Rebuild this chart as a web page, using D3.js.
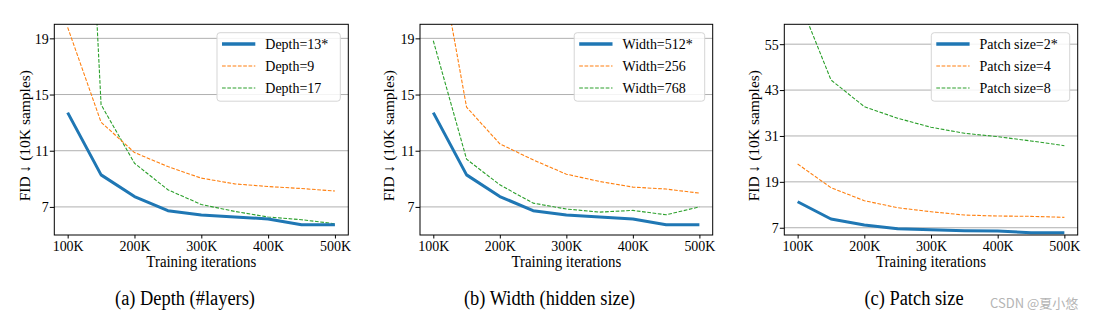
<!DOCTYPE html>
<html><head><meta charset="utf-8">
<script src="https://cdn.jsdelivr.net/npm/d3@7"></script>
<style>body{margin:0;background:#fff} svg{display:block}</style>
</head><body><svg id="chart" width="1105" height="321"></svg>
<script>
const iterations = [100000,150000,200000,250000,300000,350000,400000,450000,500000];
const xTickValues = [100000,200000,300000,400000,500000];
const xTickLabels = ["100K","200K","300K","400K","500K"];

const depthLabels = ["Depth=13*","Depth=9","Depth=17"];
const depth13 = [13.71, 9.28, 7.74, 6.73, 6.42, 6.29, 6.14, 5.73, 5.73];
const depth9  = [19.78, 13.03, 10.87, 9.87, 9.05, 8.64, 8.45, 8.31, 8.13];
const depth17 = [62.0, 14.28, 10.11, 8.22, 7.17, 6.68, 6.28, 6.09, 5.80];

const widthLabels = ["Width=512*","Width=256","Width=768"];
const width512 = [13.71, 9.28, 7.74, 6.73, 6.42, 6.29, 6.14, 5.73, 5.73];
const width256 = [27.2, 14.10, 11.49, 10.35, 9.33, 8.81, 8.41, 8.27, 7.98];
const width768 = [18.83, 10.40, 8.57, 7.27, 6.85, 6.63, 6.75, 6.44, 7.00];

const patchLabels = ["Patch size=2*","Patch size=4","Patch size=8"];
const patch2 = [13.8, 9.28, 7.70, 6.74, 6.48, 6.22, 6.14, 5.70, 5.70];
const patch4 = [23.67, 17.47, 14.07, 12.23, 11.19, 10.32, 10.06, 9.98, 9.72];
const patch8 = [67.4, 45.65, 38.67, 35.63, 33.28, 31.70, 30.82, 29.69, 28.46];

const yTicksAB = [7, 11, 15, 19];
const yTicksC = [7, 19, 31, 43, 55];
const captions = ["(a) Depth (#layers)", "(b) Width (hidden size)", "(c) Patch size"];
const xAxisTitle = "Training iterations";
const yAxisTitle = "FID \u2193 (10K samples)";
const watermark = "CSDN @夏小悠";

const colors = ["#1f77b4", "#ff7f0e", "#2ca02c"];
const serif = "Liberation Serif, Times New Roman, DejaVu Serif, serif";
const squeezeF = 0.92;

function squeeze(sel) {
  sel.each(function () {
    const L = this.getComputedTextLength();
    this.setAttribute("textLength", (L * squeezeF).toFixed(2));
    this.setAttribute("lengthAdjust", "spacingAndGlyphs");
  });
}

const panels = [
  {left: 54.3, right: 348.3, yDomain: [5.0, 20.0], yTicks: yTicksAB, labels: depthLabels, series: [depth13, depth9, depth17], capX: 185, yTitleX: 25},
  {left: 420, right: 712.7, yDomain: [5.0, 20.0], yTicks: yTicksAB, labels: widthLabels, series: [width512, width256, width768], capX: 549.5, yTitleX: 389},
  {left: 784.3, right: 1077.7, yDomain: [5.1, 60.2], yTicks: yTicksC, labels: patchLabels, series: [patch2, patch4, patch8], capX: 914, yTitleX: 753.5}
];
const plotTop = 24.3, plotBottom = 235;

const svg = d3.select("#chart");
svg.append("rect").attr("width", 1105).attr("height", 321).attr("fill", "#fff");

panels.forEach((p, pi) => {
  const x = d3.scaleLinear().domain([80000, 520000]).range([p.left, p.right]);
  const y = d3.scaleLinear().domain(p.yDomain).range([plotBottom, plotTop]);
  const g = svg.append("g");

  g.append("g").selectAll("line").data(p.yTicks).join("line")
    .attr("x1", p.left).attr("x2", p.right)
    .attr("y1", d => y(d)).attr("y2", d => y(d))
    .attr("stroke", "#b0b0b0").attr("stroke-width", 1);

  const cid = "clip" + pi;
  svg.append("clipPath").attr("id", cid).append("rect")
    .attr("x", p.left).attr("y", plotTop).attr("width", p.right - p.left).attr("height", plotBottom - plotTop);

  const line = d3.line().x((d, i) => x(iterations[i])).y(d => y(d));
  const lg = g.append("g").attr("clip-path", `url(#${cid})`);
  [2, 1, 0].forEach(si => {
    lg.append("path").datum(p.series[si])
      .attr("d", line)
      .attr("fill", "none")
      .attr("stroke", colors[si])
      .attr("stroke-width", si === 0 ? 3 : 1.1)
      .attr("stroke-dasharray", si === 0 ? null : "3.7,1.6")
      .attr("stroke-linejoin", "round");
  });

  const xAxis = d3.axisBottom(x).tickValues(xTickValues)
    .tickFormat((d, i) => xTickLabels[i]).tickSize(3.5).tickPadding(2);
  const ax = g.append("g").attr("transform", `translate(0,${plotBottom})`).call(xAxis);
  ax.attr("font-family", serif).attr("font-size", 15.2);
  ax.select(".domain").remove();
  ax.selectAll("text").attr("fill", "#000").call(squeeze);
  ax.selectAll("line").attr("stroke", "#000");

  const yAxis = d3.axisLeft(y).tickValues(p.yTicks).tickSize(4.5).tickPadding(1);
  const ay = g.append("g").attr("transform", `translate(${p.left},0)`).call(yAxis);
  ay.attr("font-family", serif).attr("font-size", 15.2);
  ay.select(".domain").remove();
  ay.selectAll("text").attr("fill", "#000").call(squeeze);
  ay.selectAll("line").attr("stroke", "#000");

  g.append("rect").attr("x", p.left).attr("y", plotTop)
    .attr("width", p.right - p.left).attr("height", plotBottom - plotTop)
    .attr("fill", "none").attr("stroke", "#000").attr("stroke-width", 1);

  g.append("text").attr("x", (p.left + p.right) / 2).attr("y", 267)
    .attr("text-anchor", "middle").attr("font-family", serif).attr("font-size", 16.2)
    .text(xAxisTitle).call(squeeze);
  g.append("text").attr("transform", `translate(${p.yTitleX + 5},${(plotTop + plotBottom) / 2 + 6}) rotate(-90)`)
    .attr("text-anchor", "middle").attr("font-family", serif).attr("font-size", 15.5)
    .text(yAxisTitle);

  const leg = g.append("g");
  const box = leg.append("rect");
  const rowY = [44, 66, 88];
  const texts = p.labels.map((lab, i) => leg.append("text")
    .attr("y", rowY[i]).attr("dy", "0.35em")
    .attr("font-family", serif).attr("font-size", 15.2).text(lab).call(squeeze));
  const maxW = d3.max(texts, t => +t.attr("textLength"));
  const boxRight = p.right - 8;
  const boxW = 5 + 33.3 + 10 + maxW + 12;
  const boxLeft = boxRight - boxW;
  box.attr("x", boxLeft).attr("y", 32.7).attr("width", boxW).attr("height", 68.5)
    .attr("rx", 3).attr("fill", "#fff").attr("fill-opacity", 0.85)
    .attr("stroke", "#d5d5d5").attr("stroke-width", 1);
  texts.forEach(t => t.attr("x", boxLeft + 5 + 33.3 + 10));
  p.labels.forEach((lab, i) => {
    leg.append("line").attr("x1", boxLeft + 5).attr("x2", boxLeft + 38.3)
      .attr("y1", rowY[i]).attr("y2", rowY[i])
      .attr("stroke", colors[i]).attr("stroke-width", i === 0 ? 3.5 : 1.1)
      .attr("stroke-dasharray", i === 0 ? null : "3.7,1.6");
  });

  svg.append("text").attr("x", p.capX).attr("y", 305)
    .attr("text-anchor", "middle").attr("font-family", serif).attr("font-size", 20)
    .text(captions[pi]).call(squeeze);
});

svg.append("text").attr("x", 990).attr("y", 308)
  .attr("font-family", "Noto Sans CJK SC, Noto Sans, sans-serif").attr("font-size", 13)
  .attr("fill", "#b4b4b4").text(watermark);
</script>
</body></html>
